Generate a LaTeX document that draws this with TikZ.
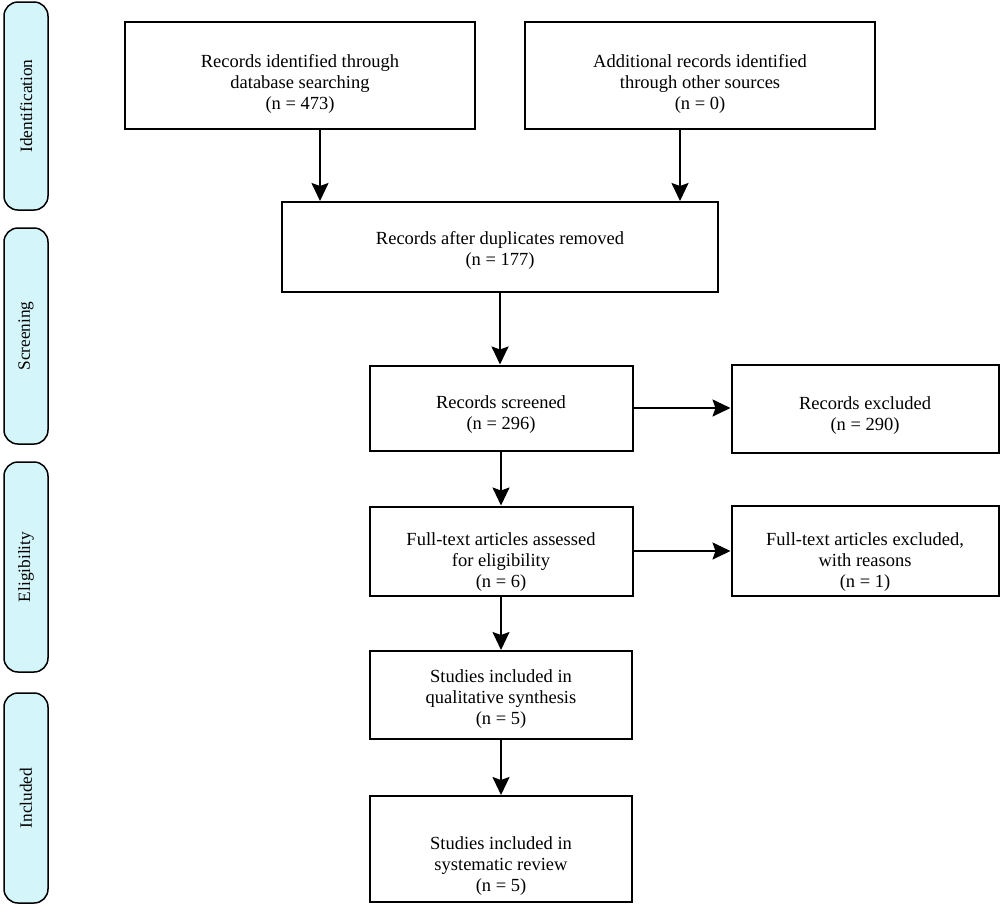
\documentclass[tikz,border=0pt]{standalone}
\usepackage{fontspec}
\setmainfont{Liberation Serif}
\usetikzlibrary{arrows.meta}
\definecolor{phasefill}{HTML}{D4F6FA}
\begin{document}
\begin{tikzpicture}[x=1pt,y=-1pt,
  box/.style={draw=black, line width=2pt, fill=white, inner sep=0pt},
  lbl/.style={align=center, inner sep=0pt, font=\fontsize{18.5}{21}\selectfont},
  phase/.style={draw=black, line width=1.5pt, fill=phasefill, rounded corners=14pt,
    minimum width=44pt, inner sep=0pt, font=\fontsize{17.3}{21}\selectfont},
  arr/.style={line width=2pt, -{Stealth[length=18pt,width=17pt,inset=3pt]}}]
\useasboundingbox (0,0) rectangle (1000,914);
% phase labels
\node[phase, minimum height=208pt] (pid) at (26,106) {\rotatebox{90}{Identification}};
\node[phase, minimum height=216pt] (psc) at (26,336) {\rotatebox{90}{Screening}};
\node[phase, minimum height=210pt] (pel) at (26,567) {\rotatebox{90}{Eligibility}};
\node[phase, minimum height=210pt] (pin) at (26,798) {\rotatebox{90}{Included}};
% boxes
\node[box, minimum width=350pt, minimum height=107pt,
  label={[lbl,yshift=-8pt]center:{Records identified through\\database searching\\(n = 473)}}]
  (b1) at (300,75.5) {};
\node[box, minimum width=350pt, minimum height=107pt,
  label={[lbl,yshift=-8pt]center:{Additional records identified\\through other sources\\(n = 0)}}]
  (b2) at (700,75.5) {};
\node[box, minimum width=436pt, minimum height=90pt,
  label={[lbl,yshift=-3pt]center:{Records after duplicates removed\\(n = 177)}}]
  (b3) at (500,247) {};
\node[box, minimum width=263pt, minimum height=85pt,
  label={[lbl,yshift=-7pt]center:{Records screened\\(n = 296)}}]
  (b4) at (501,408) {};
\node[box, minimum width=267pt, minimum height=88pt,
  label={[lbl,yshift=-6.5pt]center:{Records excluded\\(n = 290)}}]
  (b5) at (865,409) {};
\node[box, minimum width=263pt, minimum height=89pt,
  label={[lbl,yshift=-11pt]center:{Full-text articles assessed\\for eligibility\\(n = 6)}}]
  (b6) at (501,551) {};
\node[box, minimum width=267pt, minimum height=90pt,
  label={[lbl,yshift=-11pt]center:{Full-text articles excluded,\\with reasons\\(n = 1)}}]
  (b7) at (865,551) {};
\node[box, minimum width=262pt, minimum height=88pt,
  label={[lbl,yshift=-4pt]center:{Studies included in\\qualitative synthesis\\(n = 5)}}]
  (b8) at (501,695) {};
\node[box, minimum width=262pt, minimum height=106pt,
  label={[lbl,yshift=-17pt]center:{Studies included in\\systematic review\\(n = 5)}}]
  (b9) at (501,849) {};
% connectors
\draw[arr] ([xshift=20pt]b1.south) -- ([xshift=20pt]b1.south |- b3.north);
\draw[arr] ([xshift=-20pt]b2.south) -- ([xshift=-20pt]b2.south |- b3.north);
\draw[arr] (b3.south) -- (b3.south |- b4.north);
\draw[arr] (b4.east) -- (b4.east -| b5.west);
\draw[arr] (b4.south) -- (b4.south |- b6.north);
\draw[arr] (b6.east) -- (b6.east -| b7.west);
\draw[arr] (b6.south) -- (b6.south |- b8.north);
\draw[arr] (b8.south) -- (b8.south |- b9.north);
\end{tikzpicture}
\end{document}
